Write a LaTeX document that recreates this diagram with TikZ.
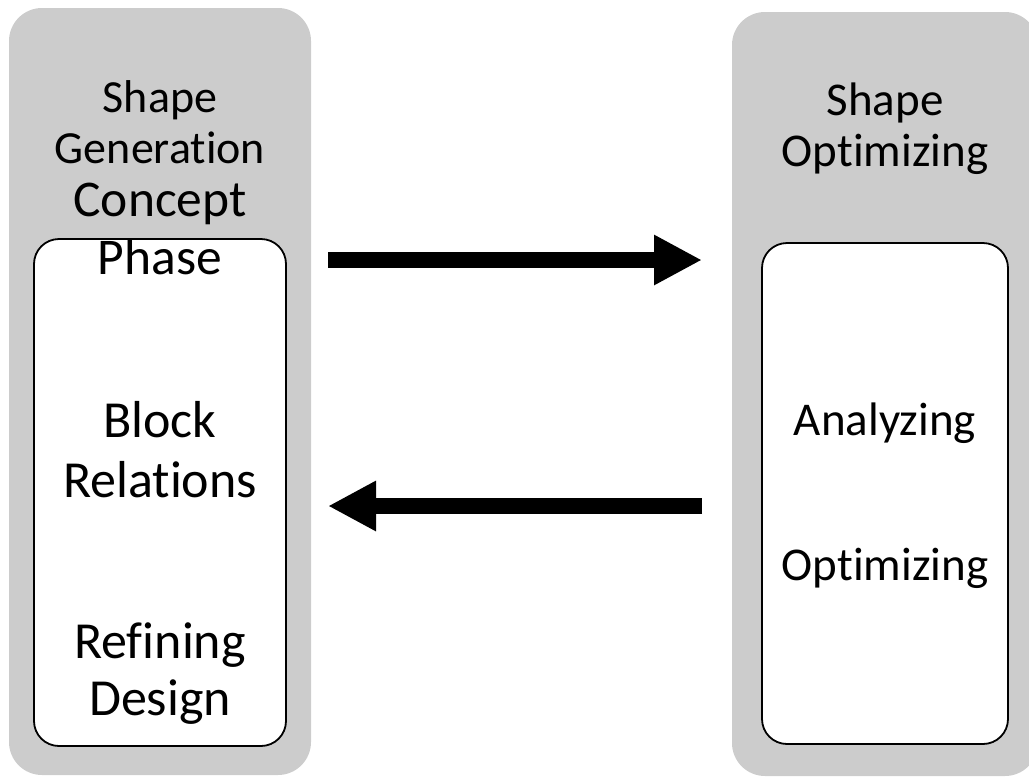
\documentclass[tikz,border=0pt]{standalone}
\usepackage{fontspec}
\setmainfont{Carlito}[RawFeature={-liga;-clig;-calt;-rlig;-dlig;-hlig}]
\usetikzlibrary{arrows.meta}
\definecolor{panelgray}{RGB}{204,204,204}
\tikzset{
  panel/.style={fill=panelgray, draw=none, rounded corners=33pt},
  inner/.style={fill=white, draw=black, line width=1.8pt, rounded corners=25pt},
  lbl/.style={anchor=base, inner sep=0pt, text=black},
  flow/.style={line width=16pt, -{Triangle[length=48pt,width=47pt]}}
}
\begin{document}
\begin{tikzpicture}[x=1pt,y=-1pt]
\useasboundingbox (0,0) rectangle (1029,777);
\clip (0,0) rectangle (1029,777);
% panels
\path[panel] (9,8) rectangle (311,775);
\path[panel] (732,12) rectangle (1038,776);
% inner boxes
\path[inner] (34,239) rectangle (286,746);
\path[inner] (762,243) rectangle (1008,744);
% left texts
\node[lbl, font=\fontsize{46}{50}\selectfont] (lshape) at (160,112) {Shape};
\node[lbl, font=\fontsize{46}{50}\selectfont] (lgen) at (160,163) {Generation};
\node[lbl, font=\fontsize{51.5}{60}\selectfont] (lconcept) at (160,216) {Concept};
\node[lbl, font=\fontsize{51.5}{60}\selectfont] (lphase) at (160,274) {Phase};
\node[lbl, font=\fontsize{52}{60}\selectfont] (lblock) at (160,437) {Block};
\node[lbl, font=\fontsize{52}{60}\selectfont] (lrel) at (160,497) {Relations};
\node[lbl, font=\fontsize{52}{60}\selectfont] (lref) at (160,658) {Refining};
\node[lbl, font=\fontsize{52}{60}\selectfont] (ldes) at (160,715) {Design};
% right texts
\node[lbl, font=\fontsize{47}{50}\selectfont] (rshape) at (885,115) {Shape};
\node[lbl, font=\fontsize{47}{50}\selectfont] (ropt) at (885,166) {Optimizing};
\node[lbl, font=\fontsize{47}{50}\selectfont] (rana) at (885,435) {Analyzing};
\node[lbl, font=\fontsize{47}{50}\selectfont] (ropt2) at (885,580) {Optimizing};
% arrows
\coordinate (a1s) at (328,260);
\coordinate (a1e) at (702,260);
\coordinate (a2s) at (702,506);
\coordinate (a2e) at (328,506);
\draw[flow] (a1s) -- (a1e);
\draw[flow] (a2s) -- (a2e);
\end{tikzpicture}
\end{document}
